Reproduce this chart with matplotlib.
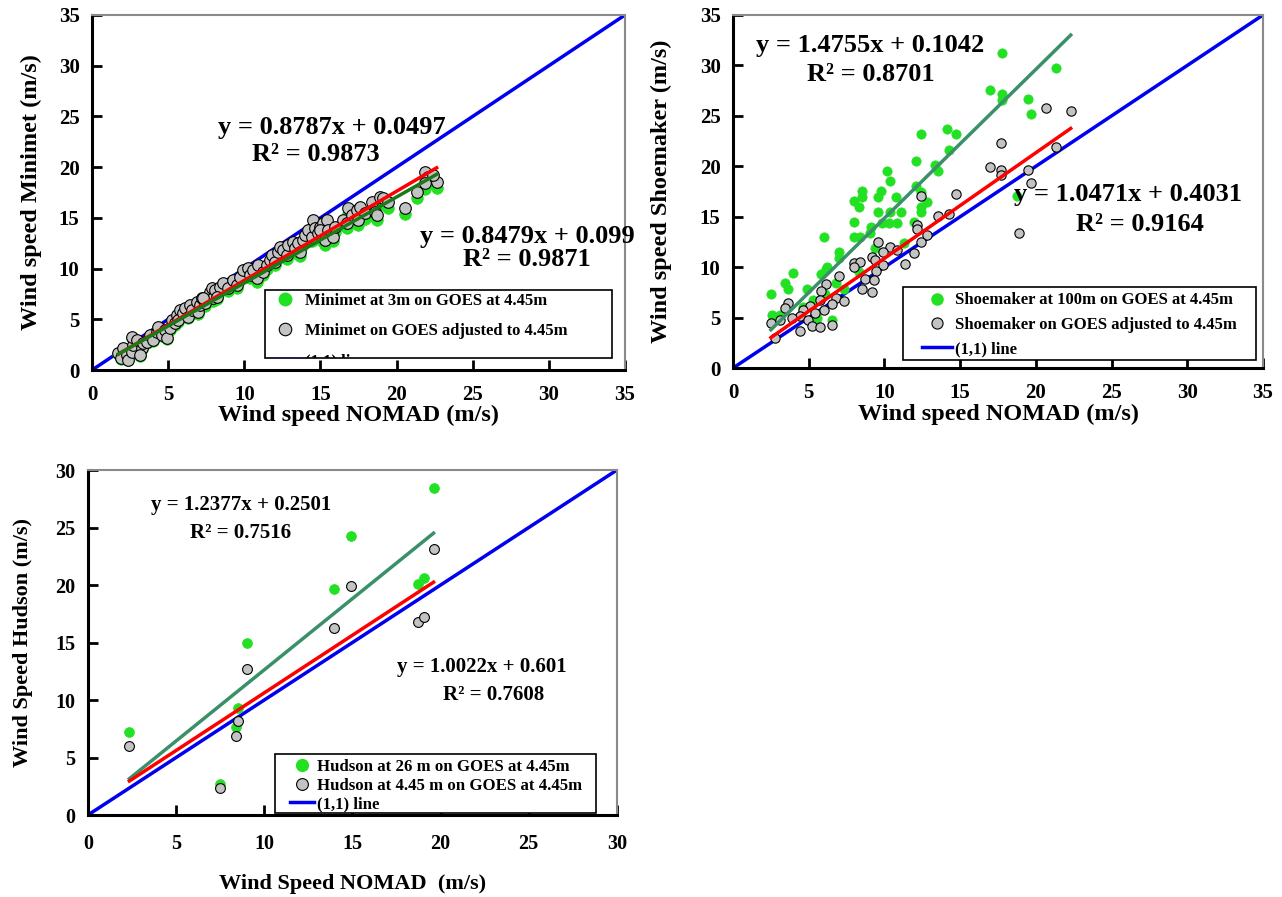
import matplotlib
matplotlib.use('Agg')
import numpy as np
import matplotlib.pyplot as plt
from matplotlib.lines import Line2D
from matplotlib.patches import Rectangle

plt.rcParams['font.family'] = ['Liberation Serif', 'DejaVu Serif']
plt.rcParams['font.weight'] = 'bold'
plt.rcParams['axes.labelweight'] = 'bold'

GREEN = '#22e022'
GRAY = '#c3c3c3'
FITG1 = '#1a7a1a'
FITG = '#3a9068'
RED = '#ff0000'
BLUE = '#0000ee'

# ---------------- Panel 1: Minimet ----------------
minimet_x = [1.73, 2.06, 1.88, 2.28, 2.39, 2.6, 2.71, 2.6, 2.93, 3.26, 3.37, 3.15, 3.59, 3.81, 4.03,
             4.25, 4.36, 4.57, 4.79, 4.9, 5.12, 5.23, 5.45, 5.56, 5.78, 5.67, 6.0, 6.1, 6.33, 6.43,
             6.54, 6.87, 6.98, 7.09, 7.2, 7.42, 7.53, 7.75, 7.86, 7.96, 7.31, 8.08, 8.4, 8.19, 8.62,
             8.95, 9.28, 9.5, 9.72, 9.94, 10.26, 10.37, 10.59, 10.81, 10.92, 11.25, 11.47, 11.69, 11.8,
             12.02, 12.23, 12.34, 12.56, 12.78, 12.89, 13.22, 13.33, 13.55, 13.66, 13.87, 13.99, 14.2,
             14.43, 14.53, 14.64, 14.86, 14.97, 15.19, 15.08, 14.97, 15.41, 15.52, 15.3, 15.85, 15.96,
             16.5, 16.72, 16.83, 17.05, 17.38, 17.49, 17.6, 17.92, 18.36, 18.58, 18.69, 18.91, 19.13,
             19.46, 20.55, 21.32, 21.86, 22.08, 22.63, 22.41, 21.86]
minimet_3m = [1.58, 2.07, 1.11, 1.43, 0.96, 1.74, 2.38, 3.17, 2.86, 2.07, 2.54, 1.43, 2.69, 3.33, 2.86,
              3.65, 4.12, 3.33, 3.8, 3.01, 3.97, 4.76, 4.44, 5.23, 5.71, 4.76, 5.39, 5.87, 5.08, 6.19,
              5.71, 6.5, 5.55, 6.19, 6.82, 6.35, 6.98, 7.45, 7.78, 6.82, 6.82, 7.61, 7.93, 6.98, 8.25,
              7.78, 8.57, 8.09, 8.88, 9.51, 9.68, 9.04, 9.51, 8.72, 10.0, 9.36, 10.0, 10.47, 10.94,
              10.31, 11.26, 11.73, 11.42, 10.94, 11.9, 12.21, 11.58, 12.05, 11.26, 12.37, 12.84, 13.33,
              12.69, 14.27, 13.48, 13.01, 13.64, 13.96, 12.69, 13.33, 14.27, 13.33, 12.37, 12.69, 13.64,
              14.27, 13.96, 15.39, 14.75, 15.23, 14.27, 15.48, 14.91, 16.02, 15.06, 14.75, 16.49, 16.34,
              16.02, 15.39, 16.96, 18.88, 18.39, 17.92, 18.56, 17.82]
minimet_adj = [1.64, 2.14, 1.15, 1.48, 0.99, 1.8, 2.47, 3.29, 2.96, 2.14, 2.63, 1.48, 2.79, 3.45, 2.96,
               3.78, 4.27, 3.45, 3.94, 3.12, 4.11, 4.93, 4.6, 5.42, 5.92, 4.93, 5.59, 6.08, 5.26, 6.41,
               5.92, 6.74, 5.75, 6.41, 7.07, 6.58, 7.23, 7.72, 8.06, 7.07, 7.07, 7.89, 8.22, 7.23, 8.55,
               8.06, 8.88, 8.38, 9.2, 9.86, 10.03, 9.37, 9.86, 9.04, 10.36, 9.7, 10.36, 10.85, 11.34,
               10.68, 11.67, 12.16, 11.83, 11.34, 12.33, 12.65, 12.0, 12.49, 11.67, 12.82, 13.31, 13.81,
               13.15, 14.79, 13.97, 13.48, 14.13, 14.47, 13.15, 13.81, 14.79, 13.81, 12.82, 13.15, 14.13,
               14.79, 14.47, 15.95, 15.29, 15.78, 14.79, 16.04, 15.45, 16.6, 15.61, 15.29, 17.09, 16.93,
               16.6, 15.95, 17.58, 19.56, 19.06, 18.57, 19.23, 18.47]
minimet_fit_3m = (0.8479, 0.099, 0.9871)
minimet_fit_adj = (0.8787, 0.0497, 0.9873)

# ---------------- Panel 2: Shoemaker ----------------
shoe_g_x = [17.74, 21.36, 17.0, 17.74, 17.74, 19.5, 19.7, 18.77, 12.38, 14.14, 14.7, 14.25, 12.09, 13.32,
            13.52, 10.17, 10.39, 8.52, 9.8, 8.52, 7.96, 9.58, 10.77, 12.11, 12.38, 8.3, 12.38, 12.8,
            12.38, 11.12, 10.39, 9.58, 7.96, 9.84, 10.32, 10.83, 9.13, 11.93, 5.98, 7.96, 8.4, 9.07,
            6.97, 7.0, 11.27, 9.4, 6.2, 2.5, 3.4, 3.62, 3.95, 6.15, 5.8, 4.88, 2.6, 3.1, 5.27, 6.09,
            6.53, 4.65, 8.3, 7.3, 5.54, 6.8]
shoe_g_y = [31.26, 29.78, 27.6, 27.2, 26.6, 26.7, 25.2, 17.05, 23.17, 23.66, 23.17, 21.6, 20.56, 20.1,
            19.56, 19.5, 18.5, 17.55, 17.55, 17.0, 16.56, 17.0, 17.0, 18.0, 17.5, 16.0, 16.0, 16.5,
            15.5, 15.5, 15.5, 15.5, 14.5, 14.4, 14.4, 14.4, 14.0, 14.5, 13.0, 13.0, 13.0, 13.4,
            11.46, 10.9, 12.4, 11.9, 10.0, 7.3, 8.4, 7.8, 9.4, 9.8, 9.3, 7.8, 5.25, 5.25, 6.74, 7.3,
            4.76, 6.08, 9.55, 7.8, 4.93, 8.4]
shoe_a_x = [20.65, 22.3, 17.7, 21.36, 17.0, 17.7, 17.7, 19.5, 19.7, 18.9, 14.7, 12.38, 13.52, 14.25,
            12.16, 12.16, 12.82, 12.38, 11.93, 9.58, 10.39, 9.88, 10.83, 9.18, 9.4, 7.96, 8.4, 9.88,
            11.34, 8.0, 9.46, 8.74, 9.33, 8.52, 9.18, 6.97, 6.15, 5.8, 6.82, 7.3, 5.71, 6.53, 5.98,
            5.05, 4.65, 5.43, 3.66, 3.44, 4.43, 3.88, 4.92, 5.2, 5.76, 6.53, 2.51, 3.1, 4.43, 2.78]
shoe_a_y = [25.8, 25.5, 22.3, 21.9, 19.96, 19.6, 19.1, 19.6, 18.3, 13.35, 17.25, 17.05, 15.07, 15.3,
            14.18, 13.75, 13.2, 12.5, 11.43, 12.5, 12.0, 11.5, 11.7, 11.04, 10.7, 10.44, 10.54, 10.2,
            10.3, 10.0, 9.6, 8.79, 8.72, 7.8, 7.57, 9.12, 8.3, 7.67, 6.9, 6.67, 6.74, 6.35, 5.75,
            6.15, 5.75, 5.48, 6.47, 5.98, 5.15, 4.93, 4.76, 4.16, 4.03, 4.26, 4.43, 4.76, 3.7, 2.94]
shoe_fit_100m = (1.4755, 0.1042, 0.8701)
shoe_fit_adj = (1.0471, 0.4031, 0.9164)

# ---------------- Panel 3: Hudson ----------------
hud_x = [2.35, 7.49, 8.38, 8.51, 9.04, 13.95, 14.9, 18.74, 19.08, 19.6]
hud_26m = [7.19, 2.7, 7.68, 9.33, 14.98, 19.62, 24.26, 20.1, 20.6, 28.4]
hud_445 = [6.0, 2.38, 6.87, 8.2, 12.67, 16.29, 19.94, 16.81, 17.25, 23.1]
hud_fit_26m = (1.2377, 0.2501, 0.7516)
hud_fit_445 = (1.0022, 0.601, 0.7608)

fig = plt.figure(figsize=(12.82, 8.97), dpi=100)


def style(ax, lim, step, fs, pad):
    ax.set_xlim(0, lim)
    ax.set_ylim(0, lim)
    ax.set_xticks(np.arange(0, lim + 1, step))
    ax.set_yticks(np.arange(0, lim + 1, step))
    ax.tick_params(direction='in', length=7, width=2, labelsize=fs, top=False, right=False)
    ax.tick_params(axis='x', pad=pad)
    ax.tick_params(axis='y', pad=9)
    for s in ['left', 'bottom']:
        ax.spines[s].set_linewidth(2.2)
        ax.spines[s].set_color('black')
    for s in ['top', 'right']:
        ax.spines[s].set_linewidth(1.5)
        ax.spines[s].set_color('#8a8a8a')


def fit_line(ax, xs, fit, color, lw=2.5):
    xr = np.array([min(xs), max(xs)])
    ax.plot(xr, fit[0] * xr + fit[1], color=color, lw=lw, zorder=4)


def framed_legend(ax, handles, labels, box, anchor, fs, spacing, hl, htp):
    x0, y0, x1, y1 = box
    rect = Rectangle((x0, y0), x1 - x0, y1 - y0, transform=ax.transAxes, facecolor='white',
                     edgecolor='black', lw=1.2, zorder=6)
    ax.add_artist(rect)
    leg = ax.legend(handles, labels, loc='upper left', bbox_to_anchor=anchor, frameon=False,
                    prop={'size': fs, 'weight': 'bold'}, labelspacing=spacing, handlelength=hl,
                    handletextpad=htp, borderaxespad=0, borderpad=0)
    leg.set_zorder(7)
    for t in leg.get_texts():
        t.set_clip_path(rect)
    for h in leg.legend_handles:
        h.set_clip_path(rect)
    return leg


def eq(fit):
    return 'y = %gx + %g' % (fit[0], fit[1]), 'R² = %.4f' % fit[2]


# ---- Panel 1
ax1 = fig.add_axes([0.0718, 0.5875, 0.4157, 0.3958])
ax1.plot([0, 35], [0, 35], color=BLUE, lw=2.5, zorder=2)
ax1.scatter(minimet_x, minimet_3m, s=70, color=GREEN, edgecolors=GREEN, linewidths=0.5, zorder=3)
ax1.scatter(minimet_x, minimet_adj, s=70, color=GRAY, edgecolors='black', linewidths=0.8, zorder=3)
fit_line(ax1, minimet_x, minimet_fit_adj, RED)
fit_line(ax1, minimet_x, minimet_fit_3m, FITG1)
style(ax1, 35, 5, 15, 11)
ax1.set_xlabel('Wind speed NOMAD (m/s)', fontsize=17.5, labelpad=0)
ax1.set_ylabel('Wind speed Minimet (m/s)', fontsize=17.5, labelpad=12)
e, r = eq(minimet_fit_adj)
ax1.text(15.76, 23.87, e, fontsize=19, ha='center', va='center')
ax1.text(14.71, 21.2, r, fontsize=19, ha='center', va='center')
e, r = eq(minimet_fit_3m)
ax1.text(28.56, 13.2, e, fontsize=19, ha='center', va='center', clip_on=False)
ax1.text(28.56, 10.85, r, fontsize=19, ha='center', va='center')
h1 = [Line2D([], [], ls='none', marker='o', ms=9, mfc=GREEN, mec=GREEN),
      Line2D([], [], ls='none', marker='o', ms=9, mfc=GRAY, mec='black', mew=0.8),
      Line2D([], [], color=BLUE, lw=2.5)]
framed_legend(ax1, h1, ['Minimet at 3m on GOES at 4.45m', 'Minimet on GOES adjusted to 4.45m', '(1,1) line'],
              (0.3246, 0.0338, 0.9756, 0.2254), (0.333, 0.218), 12, 0.85, 1.9, 0.2)

# ---- Panel 2
ax2 = fig.add_axes([0.5718, 0.5897, 0.4134, 0.3936])
ax2.plot([0, 35], [0, 35], color=BLUE, lw=2.5, zorder=2)
ax2.scatter(shoe_g_x, shoe_g_y, s=45, color=GREEN, edgecolors=GREEN, linewidths=0.5, zorder=3)
ax2.scatter(shoe_a_x, shoe_a_y, s=45, color=GRAY, edgecolors='black', linewidths=0.8, zorder=3)
fit_line(ax2, shoe_g_x + shoe_a_x, shoe_fit_100m, FITG)
fit_line(ax2, shoe_g_x + shoe_a_x, shoe_fit_adj, RED)
style(ax2, 35, 5, 15, 11)
ax2.set_xlabel('Wind speed NOMAD (m/s)', fontsize=17.5, labelpad=0)
ax2.set_ylabel('Wind speed Shoemaker (m/s)', fontsize=17.5, labelpad=20)
e, r = eq(shoe_fit_100m)
ax2.text(9.07, 32.0, e, fontsize=19, ha='center', va='center')
ax2.text(9.13, 29.05, r, fontsize=19, ha='center', va='center')
e, r = eq(shoe_fit_adj)
ax2.text(26.08, 17.25, e, fontsize=19, ha='center', va='center')
ax2.text(26.87, 14.18, r, fontsize=19, ha='center', va='center')
h2 = [Line2D([], [], ls='none', marker='o', ms=8, mfc=GREEN, mec=GREEN),
      Line2D([], [], ls='none', marker='o', ms=8, mfc=GRAY, mec='black', mew=0.8),
      Line2D([], [], color=BLUE, lw=2.5)]
framed_legend(ax2, h2, ['Shoemaker at 100m on GOES at 4.45m', 'Shoemaker on GOES adjusted to 4.45m', '(1,1) line'],
              (0.3208, 0.0227, 0.9868, 0.2295), (0.357, 0.214), 12, 0.5, 1.8, 0.15)

# ---- Panel 3
ax3 = fig.add_axes([0.0686, 0.0914, 0.4126, 0.3846])
ax3.plot([0, 30], [0, 30], color=BLUE, lw=2.5, zorder=2)
ax3.scatter(hud_x, hud_26m, s=50, color=GREEN, edgecolors=GREEN, linewidths=0.5, zorder=3)
ax3.scatter(hud_x, hud_445, s=50, color=GRAY, edgecolors='black', linewidths=0.8, zorder=3)
fit_line(ax3, hud_x, hud_fit_26m, FITG)
fit_line(ax3, hud_x, hud_fit_445, RED)
style(ax3, 30, 5, 14.5, 14)
ax3.set_xlabel('Wind Speed NOMAD  (m/s)', fontsize=16, labelpad=14)
ax3.set_ylabel('Wind Speed Hudson (m/s)', fontsize=16, labelpad=16)
e, r = eq(hud_fit_26m)
ax3.text(8.68, 26.96, e, fontsize=15, ha='center', va='center')
ax3.text(8.68, 24.52, r, fontsize=15, ha='center', va='center')
e, r = eq(hud_fit_445)
ax3.text(22.35, 12.87, e, fontsize=15, ha='center', va='center')
ax3.text(23.03, 10.43, r, fontsize=15, ha='center', va='center')
h3 = [Line2D([], [], ls='none', marker='o', ms=8.5, mfc=GREEN, mec=GREEN),
      Line2D([], [], ls='none', marker='o', ms=8.5, mfc=GRAY, mec='black', mew=0.8),
      Line2D([], [], color=BLUE, lw=2.5)]
framed_legend(ax3, h3, ['Hudson at 26 m on GOES at 4.45m', 'Hudson at 4.45 m on GOES at 4.45m', '(1,1) line'],
              (0.3535, 0.0058, 0.9603, 0.1768), (0.382, 0.162), 12.1, 0.15, 1.4, 0.2)

fig.savefig('out.png', dpi=100)
